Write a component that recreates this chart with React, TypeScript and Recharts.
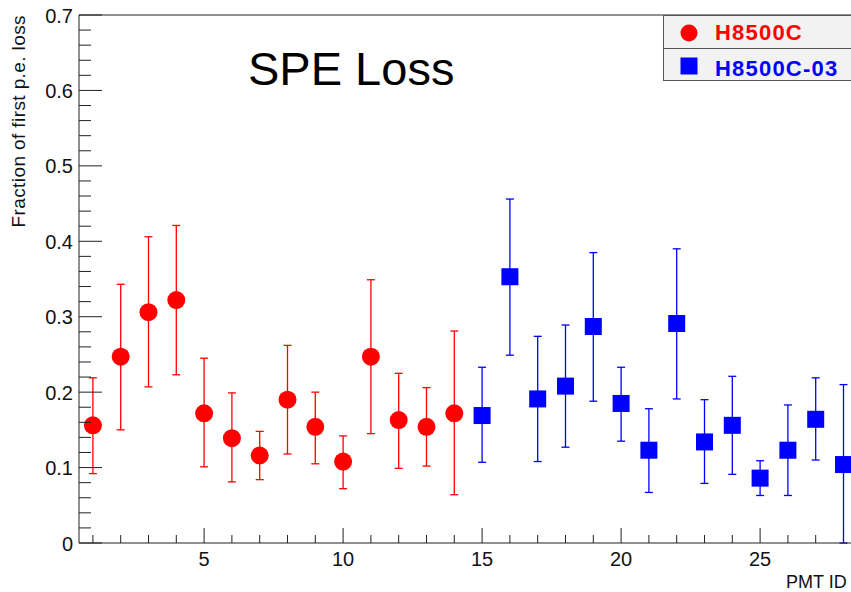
import { ErrorBar, ReferenceLine, Scatter, ScatterChart, XAxis, YAxis } from 'recharts'

const FONT = '"Liberation Sans", Arial, Helvetica, sans-serif'

// H8500C tubes (PMT 1-14)
const redIds = [1, 2, 3, 4, 5, 6, 7, 8, 9, 10, 11, 12, 13, 14]
const redValues = [0.156, 0.247, 0.306, 0.322, 0.172, 0.139, 0.116, 0.19, 0.154, 0.108, 0.247, 0.163, 0.154, 0.172]
const redLow = [0.092, 0.15, 0.207, 0.223, 0.101, 0.081, 0.084, 0.118, 0.105, 0.072, 0.145, 0.099, 0.102, 0.064]
const redHigh = [0.219, 0.343, 0.406, 0.421, 0.245, 0.199, 0.148, 0.262, 0.2, 0.142, 0.349, 0.225, 0.206, 0.281]

// H8500C-03 tubes (PMT 15-28)
const blueIds = [15, 16, 17, 18, 19, 20, 21, 22, 23, 24, 25, 26, 27, 28]
const blueValues = [0.169, 0.353, 0.191, 0.208, 0.287, 0.185, 0.123, 0.291, 0.134, 0.156, 0.086, 0.123, 0.164, 0.104]
const blueLow = [0.107, 0.249, 0.108, 0.127, 0.188, 0.135, 0.067, 0.191, 0.079, 0.091, 0.063, 0.063, 0.11, 0.0]
const blueHigh = [0.233, 0.456, 0.274, 0.289, 0.385, 0.233, 0.178, 0.39, 0.19, 0.221, 0.109, 0.183, 0.219, 0.21]

const xTicks = Array.from({ length: 28 }, (_, i) => i + 1)
const yTicks = Array.from({ length: 36 }, (_, i) => Math.round(i * 2) / 100)

const buildRows = (ids: number[], vals: number[], lo: number[], hi: number[]) =>
  ids.map((id, i) => ({ x: id, y: vals[i], err: [vals[i] - lo[i], hi[i] - vals[i]] }))

const redData = buildRows(redIds, redValues, redLow, redHigh)
const blueData = buildRows(blueIds, blueValues, blueLow, blueHigh)

const XTick = (props: any) => {
  const { x, y, payload } = props
  const major = payload.value % 5 === 0
  return (
    <g>
      <line x1={x} y1={y} x2={x} y2={y - (major ? 15 : 8)} stroke="#222" />
      {major && (
        <text x={x} y={y + 22.5} textAnchor="middle" fontSize={20} fontFamily={FONT} fill="#111">
          {payload.value}
        </text>
      )}
    </g>
  )
}

const YTick = (props: any) => {
  const { x, y, payload } = props
  const major = Math.round(payload.value * 100) % 10 === 0
  return (
    <g>
      <line x1={x} y1={y} x2={x + (major ? 23 : 12)} y2={y} stroke="#222" />
      {major && (
        <text x={x - 6} y={y + 7.5} textAnchor="end" fontSize={20} fontFamily={FONT} fill="#111">
          {payload.value}
        </text>
      )}
    </g>
  )
}

const RedDot = (props: any) => <circle cx={props.cx} cy={props.cy} r={9} fill="#ff0000" />
const BlueSquare = (props: any) => (
  <rect x={props.cx - 8.5} y={props.cy - 8.5} width={17} height={17} fill="#0000ff" />
)

export default function App() {
  return (
    <div style={{ position: 'absolute', left: 0, top: 0, width: 851, height: 592, overflow: 'hidden', background: '#fff' }}>
      <ScatterChart width={918} height={592} margin={{ top: 15, right: 5, bottom: 0, left: 0 }}>
        <XAxis
          type="number"
          dataKey="x"
          domain={[0.5, 30.5]}
          ticks={xTicks}
          interval={0}
          height={49}
          tickSize={0}
          tickMargin={0}
          tick={<XTick />}
          axisLine={{ stroke: '#222' }}
          tickLine={false}
          allowDataOverflow
          label={{
            content: () => (
              <text x={786} y={588} fontSize={18} fontFamily={FONT} fill="#111">
                PMT ID
              </text>
            ),
          }}
        />
        <YAxis
          type="number"
          dataKey="y"
          domain={[0, 0.7]}
          ticks={yTicks}
          interval={0}
          width={79}
          tickSize={0}
          tickMargin={0}
          tick={<YTick />}
          axisLine={{ stroke: '#222' }}
          tickLine={false}
          allowDataOverflow
          label={{
            content: () => (
              <text
                x={25}
                y={15}
                transform="rotate(-90 25 15)"
                textAnchor="end"
                fontSize={19}
                letterSpacing={0.4}
                fontFamily={FONT}
                fill="#111"
              >
                Fraction of first p.e. loss
              </text>
            ),
          }}
        />
        <ReferenceLine y={0.7} stroke="#222" />
        <Scatter name="H8500C" data={redData} shape={RedDot} isAnimationActive={false}>
          <ErrorBar dataKey="err" direction="y" width={4} stroke="#ff0000" strokeWidth={1.3} />
        </Scatter>
        <Scatter name="H8500C-03" data={blueData} shape={BlueSquare} isAnimationActive={false}>
          <ErrorBar dataKey="err" direction="y" width={4} stroke="#0000ff" strokeWidth={1.3} />
        </Scatter>
      </ScatterChart>

      <div
        style={{
          position: 'absolute',
          left: 248,
          top: 85 - 43,
          fontFamily: FONT,
          fontSize: 47,
          lineHeight: '54px',
          color: '#000',
          whiteSpace: 'nowrap',
        }}
      >
        SPE Loss
      </div>

      <div
        style={{
          position: 'absolute',
          left: 663,
          top: 15,
          width: 220,
          height: 66,
          background: '#f2f2f2',
          border: '1px solid #555',
          boxSizing: 'border-box',
          fontFamily: FONT,
          fontWeight: 'bold',
          fontSize: 22,
          letterSpacing: 1.2,
        }}
      >
        <div style={{ position: 'absolute', left: 0, right: 0, top: 32, borderTop: '1px solid #555' }} />
        <svg style={{ position: 'absolute', left: 15, top: 7 }} width={20} height={20}>
          <circle cx={10} cy={10} r={8.5} fill="#ff0000" />
        </svg>
        <div style={{ position: 'absolute', left: 51, top: 4, color: '#ff0000', lineHeight: '26px' }}>H8500C</div>
        <svg style={{ position: 'absolute', left: 15, top: 40 }} width={20} height={20}>
          <rect x={1.5} y={1.5} width={17} height={17} fill="#0000ff" />
        </svg>
        <div style={{ position: 'absolute', left: 51, top: 40, color: '#0000ff', lineHeight: '26px' }}>H8500C-03</div>
      </div>
    </div>
  )
}
